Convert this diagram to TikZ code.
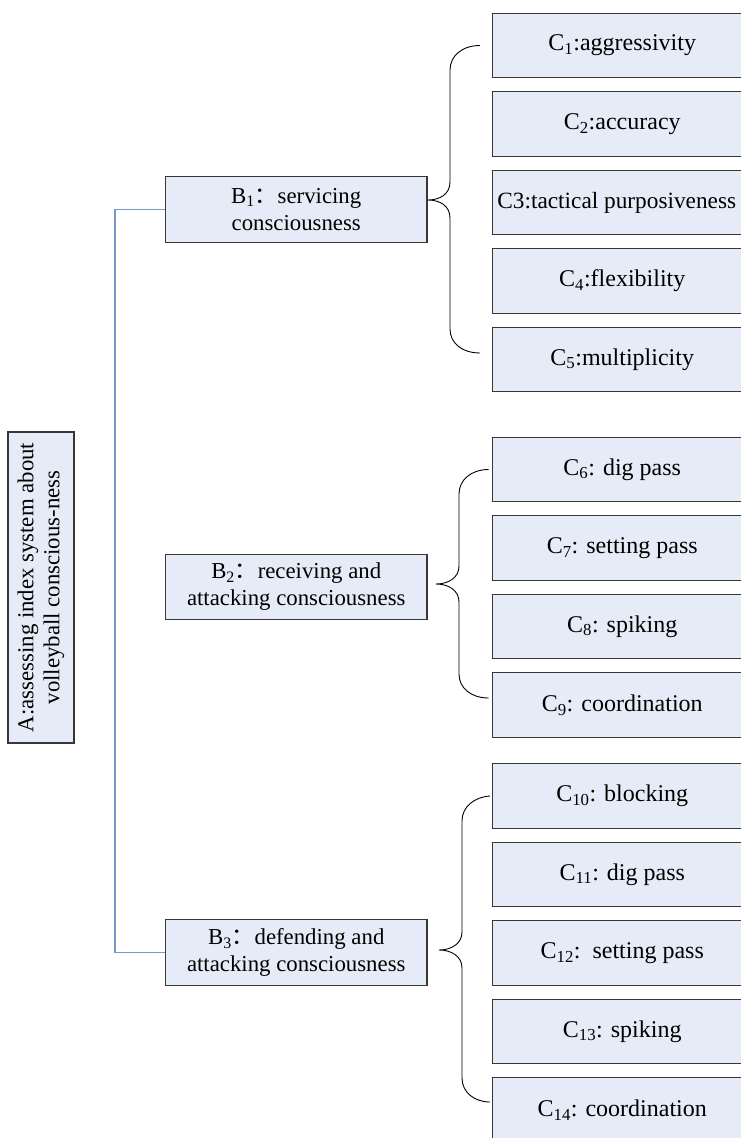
\documentclass[tikz,border=0pt]{standalone}
\usepackage{fontspec}
\setmainfont{Liberation Serif}
\newfontfamily\cjk{Noto Sans CJK SC}
\newcommand\fwc{{\cjk ：}}
\definecolor{boxfill}{RGB}{230,236,247}
\definecolor{boxline}{RGB}{55,55,55}
\definecolor{spinecol}{RGB}{120,152,204}
\begin{document}
\begin{tikzpicture}[x=1pt,y=-1pt,
  box/.style={draw=boxline, fill=boxfill, line width=1.1pt, inner sep=0pt, align=center},
  cbox/.style={box, anchor=west, minimum width=260pt, minimum height=64.5pt, font=\fontsize{24}{28}\selectfont},
  bbox/.style={box, minimum width=261.5pt, minimum height=65.5pt, font=\fontsize{22.8}{27}\selectfont},
  abox/.style={box, rotate=90, minimum width=311pt, minimum height=66pt, font=\fontsize{22.8}{26}\selectfont},
  brc/.style={draw=black, line width=0.9pt},
  spine/.style={draw=spinecol, line width=1.2pt}]
\useasboundingbox (0,0) rectangle (741,1138);
\clip (0,0) rectangle (741,1138);

% A
\node[abox] (a) at (41,587.5) {A:assessing index system about\\volleyball conscious-ness};

% B nodes
\node[bbox] (b1) at (296.25,209.5) {B\textsubscript{1}\fwc servicing\\consciousness};
\node[bbox] (b2) at (296.25,587) {B\textsubscript{2}\fwc receiving and\\attacking consciousness};
\node[bbox] (b3) at (296.25,952.5) {B\textsubscript{3}\fwc defending and\\attacking consciousness};

% C nodes
\node[cbox] (c1) at (491.7,45.5) {C\textsubscript{1}:aggressivity};
\node[cbox] (c2) at (491.7,124) {C\textsubscript{2}:accuracy};
\node[cbox] (c3) at (491.7,202.5) {\fontsize{23.3}{28}\selectfont\hspace*{-11pt}C3:tactical purposiveness};
\node[cbox] (c4) at (491.7,281) {C\textsubscript{4}:flexibility};
\node[cbox] (c5) at (491.7,359.5) {C\textsubscript{5}:multiplicity};

\node[cbox] (c6) at (491.7,469.5) {C\textsubscript{6}: dig pass};
\node[cbox] (c7) at (491.7,548) {C\textsubscript{7}: setting pass};
\node[cbox] (c8) at (491.7,626.5) {C\textsubscript{8}: spiking};
\node[cbox] (c9) at (491.7,705) {C\textsubscript{9}: coordination};

\node[cbox] (c10) at (491.7,796) {C\textsubscript{10}: blocking};
\node[cbox] (c11) at (491.7,874.5) {C\textsubscript{11}: dig pass};
\node[cbox] (c12) at (491.7,953) {C\textsubscript{12}:\ \ setting pass};
\node[cbox] (c13) at (491.7,1031.5) {C\textsubscript{13}: spiking};
\node[cbox] (c14) at (491.7,1110) {C\textsubscript{14}: coordination};

% spine from B1 to B3
\coordinate (spinetop) at (115,209.5);
\draw[spine] (b1.west) -- (spinetop) |- (b3.west);

% braces
\draw[brc] ([xshift=-11.7pt]c1.west) .. controls (462,45.5) and (450,56) .. (450,70)
  -- (450,182) .. controls (450,194) and (440,200) .. (428,200)
  .. controls (440,200) and (450,206) .. (450,218)
  -- (450,329) .. controls (450,343) and (462,353) .. ([xshift=-11.7pt,yshift=6.5pt]c5.west);

\draw[brc] ([xshift=-3pt]c6.west) .. controls (471,469.5) and (459,480) .. (459,494)
  -- (459,566) .. controls (459,578) and (448,584) .. (436,584)
  .. controls (448,584) and (459,590) .. (459,602)
  -- (459,674) .. controls (459,688) and (471,698) .. ([xshift=-3pt,yshift=7pt]c9.west);

\draw[brc] ([xshift=-1.7pt]c10.west) .. controls (474,797) and (462,807) .. (462,821)
  -- (462,932) .. controls (462,944) and (451,950) .. (439,950)
  .. controls (451,950) and (462,956) .. (462,968)
  -- (462,1078) .. controls (462,1092) and (474,1102) .. ([xshift=-1.7pt,yshift=8pt]c14.west);
\end{tikzpicture}
\end{document}
